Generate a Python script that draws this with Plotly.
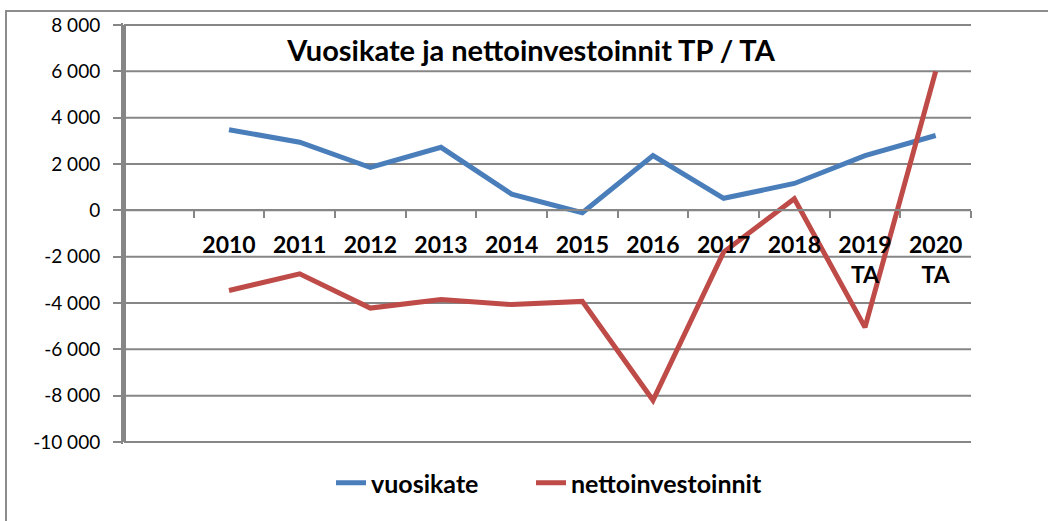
import plotly.graph_objects as go

# Category labels (first slot on the axis is left empty)
years = ["2010", "2011", "2012", "2013", "2014", "2015", "2016", "2017", "2018",
         "2019<br>TA", "2020<br>TA"]
vuosikate = [3480, 2940, 1850, 2720, 700, -100, 2360, 520, 1160, 2360, 3230]
nettoinvestoinnit = [-3460, -2740, -4220, -3850, -4070, -3930, -8200, -1800, 500, -5050, 6000]

y_ticks = [-10000, -8000, -6000, -4000, -2000, 0, 2000, 4000, 6000, 8000]
y_ticktext = [f"{v:,}".replace(",", " ") for v in y_ticks]

blank = " "
categories = [blank] + years

BLUE = "#4A7EBB"
RED = "#BE4B48"
GRID = "#868686"
FONT = "Lato"

W, H = 1048, 521
L, R, T, B = 123, 77, 23, 77
pw, ph = W - L - R, H - T - B


def px_x(x):
    return (x - L) / pw


def px_y(y):
    return 1 - (y - T) / ph


fig = go.Figure()
fig.add_trace(go.Scatter(
    x=categories, y=[None] + vuosikate, name="vuosikate", mode="lines",
    line=dict(color=BLUE, width=5), legend="legend"))
fig.add_trace(go.Scatter(
    x=categories, y=[None] + nettoinvestoinnit, name="nettoinvestoinnit", mode="lines",
    line=dict(color=RED, width=5), legend="legend2"))

ymin, ymax = y_ticks[0], y_ticks[-1]
# a couple of pixels of headroom so the outermost gridlines sit inside the frame
pad = 2 * (ymax - ymin) / (ph - 4)
rmin, rmax = ymin - pad, ymax + pad


def frac(v):
    return (v - rmin) / (rmax - rmin)


zero_pos = frac(0)

# Horizontal gridlines at every labelled value
grid_shapes = [dict(type="line", xref="paper", yref="paper", x0=1 / pw, x1=1,
                    y0=frac(v), y1=frac(v),
                    line=dict(color=GRID, width=2), layer="below")
               for v in y_ticks]

# Left axis line
axis_line = dict(type="line", xref="paper", yref="paper",
                 x0=1.5 / pw, x1=1.5 / pw, y0=frac(ymin), y1=frac(ymax),
                 line=dict(color=GRID, width=3), layer="below")

border = dict(type="rect", xref="paper", yref="paper",
              x0=px_x(6), x1=px_x(W + 20), y0=px_y(H + 20), y1=px_y(11),
              line=dict(color="#8c8c8c", width=2), layer="below")

legend_style = dict(orientation="h", y=px_y(483), xanchor="left", yanchor="middle",
                    font=dict(family=FONT, size=25, color="black", weight="bold"),
                    bgcolor="rgba(0,0,0,0)")

fig.update_layout(
    width=W, height=H,
    margin=dict(l=L, r=R, t=T, b=B),
    paper_bgcolor="white", plot_bgcolor="rgba(0,0,0,0)",
    font=dict(family=FONT, color="black"),
    title=dict(text="Vuosikate ja nettoinvestoinnit TP / TA",
               x=px_x(531), y=px_y(51), xref="paper", yref="paper",
               xanchor="center", yanchor="middle",
               font=dict(family=FONT, size=29, color="black", weight="bold")),
    showlegend=True,
    legend=dict(x=px_x(331), **legend_style),
    legend2=dict(x=px_x(531), **legend_style),
    xaxis=dict(type="category", categoryorder="array", categoryarray=categories,
               range=[-0.5, len(categories) - 0.5],
               anchor="free", position=zero_pos,
               tickson="boundaries", ticks="outside", ticklen=7, tickwidth=2,
               tickcolor=GRID, showline=True, linecolor=GRID, linewidth=2,
               showgrid=False, zeroline=False,
               tickfont=dict(family=FONT, size=23, color="black", weight="bold"),
               ticklabelstandoff=14, fixedrange=True),
    yaxis=dict(range=[rmin, rmax], tickvals=y_ticks, ticktext=y_ticktext,
               ticks="outside", ticklen=8, tickwidth=2, tickcolor=GRID,
               showline=True, linecolor=GRID, linewidth=2,
               showgrid=False, zeroline=False,
               tickfont=dict(family=FONT, size=19, color="black"),
               ticklabelstandoff=9, fixedrange=True),
    shapes=grid_shapes + [axis_line, border],
)

fig.write_html("out.html")
